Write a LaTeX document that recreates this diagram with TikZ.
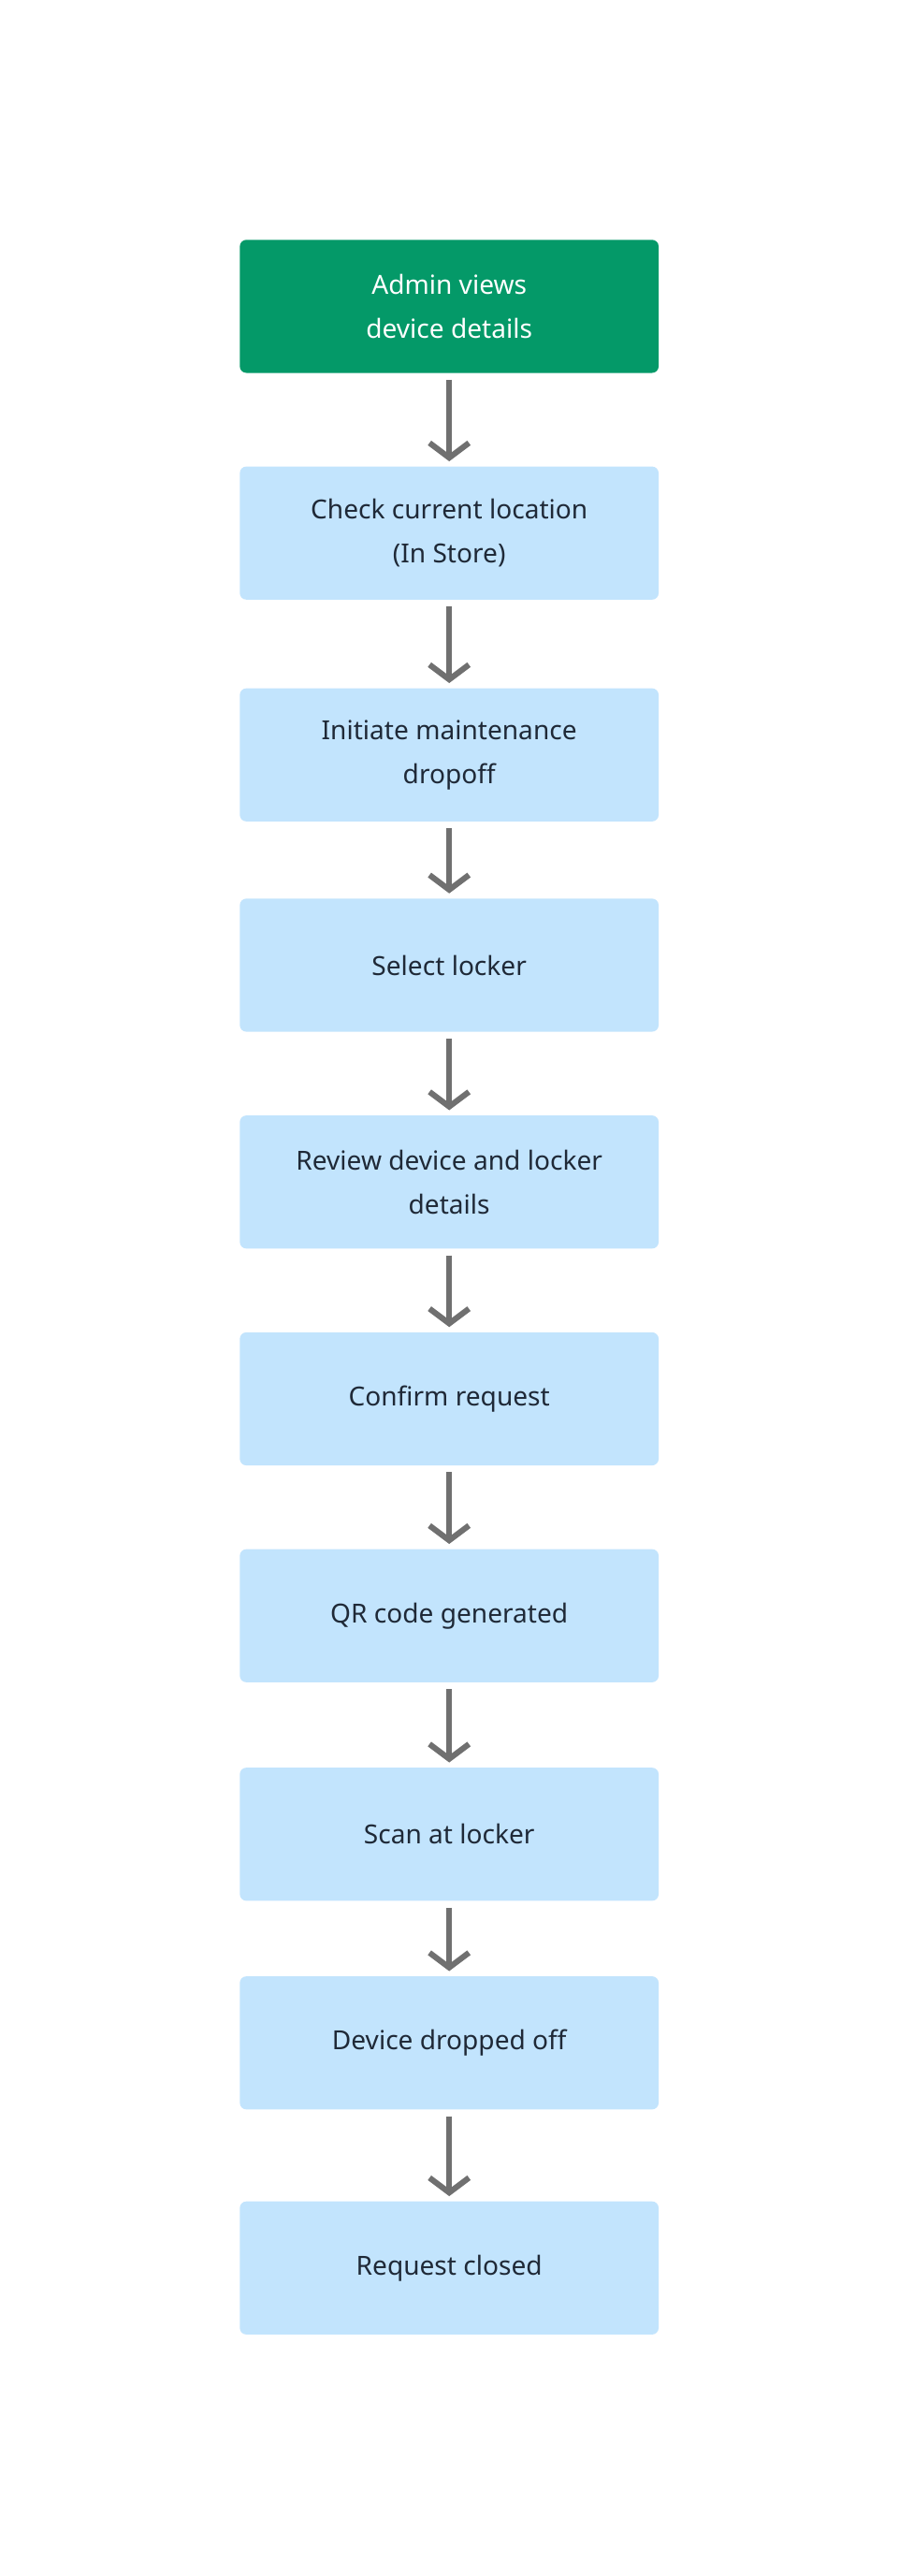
\documentclass[tikz,border=0pt]{standalone}
\usepackage{fontspec}
\setmainfont{Noto Sans}
\usetikzlibrary{arrows.meta}
\definecolor{startgreen}{RGB}{4,153,104}
\definecolor{stepblue}{RGB}{194,228,253}
\definecolor{textdark}{RGB}{31,41,55}
\definecolor{arrowgray}{RGB}{112,112,112}
\tikzset{
  stepbox/.style={rectangle, rounded corners=4pt, fill=stepblue, minimum width=255pt, minimum height=81pt, align=center, text=textdark, font=\fontsize{16}{27}\selectfont},
  startbox/.style={stepbox, fill=startgreen, text=white},
  flow/.style={->, >={Straight Barb[length=9pt, width=24pt, line width=3.5pt]}, line width=3.5pt, arrowgray, shorten >=3pt, shorten <=4pt}
}
\begin{document}
\begin{tikzpicture}[x=1pt, y=1pt]
  \useasboundingbox[fill=white] (0,0) rectangle (547,1568);
  \node[startbox] (S0)at(273.5, 1381.5) {Admin views\\device details};
  \node[stepbox] (S1)at(273.5, 1243.5) {Check current location\\(In Store)};
  \node[stepbox] (S2)at(273.5, 1108.5) {Initiate maintenance\\dropoff};
  \node[stepbox] (S3)at(273.5, 980.5) {Select locker};
  \node[stepbox] (S4)at(273.5, 848.5) {Review device and locker\\details};
  \node[stepbox] (S5)at(273.5, 716.5) {Confirm request};
  \node[stepbox] (S6)at(273.5, 584.5) {QR code generated};
  \node[stepbox] (S7)at(273.5, 451.5) {Scan at locker};
  \node[stepbox] (S8)at(273.5, 324.5) {Device dropped off};
  \node[stepbox] (S9)at(273.5, 187.5) {Request closed};
  \foreach \a/\b in {S0/S1, S1/S2, S2/S3, S3/S4, S4/S5, S5/S6, S6/S7, S7/S8, S8/S9}
    \draw[flow] (\a) -- (\b);
\end{tikzpicture}
\end{document}
